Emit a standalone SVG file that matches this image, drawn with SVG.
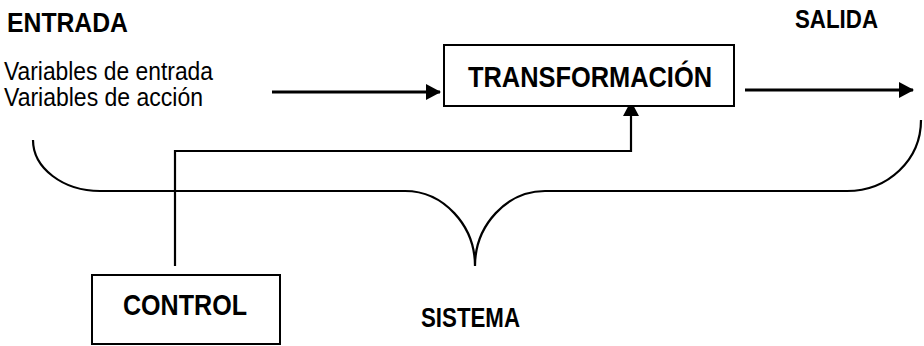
<svg xmlns="http://www.w3.org/2000/svg" width="924" height="346" viewBox="0 0 924 346">
  <style>
    .box { fill: #fff; stroke: #000; stroke-width: 2; }
    .line { fill: none; stroke: #000; stroke-width: 3; }
    .thin { fill: none; stroke: #000; stroke-width: 2.2; }
    .brace { fill: none; stroke: #000; stroke-width: 2.2; }
    .bold { font-family: "Liberation Sans", Arial, sans-serif; font-weight: bold; fill: #000; }
    .reg { font-family: "Liberation Sans", Arial, sans-serif; fill: #000; }
  </style>
  <defs>
    <marker id="arrow" markerUnits="userSpaceOnUse" markerWidth="16" markerHeight="18" refX="14" refY="8" orient="auto">
      <path d="M0,0 L15,8 L0,16 Z" fill="#000"/>
    </marker>
  </defs>

  <!-- labels -->
  <g id="entrada">
    <text class="bold" x="7" y="32" font-size="27" textLength="121" lengthAdjust="spacingAndGlyphs">ENTRADA</text>
    <text class="reg" x="4" y="80" font-size="26" textLength="209" lengthAdjust="spacingAndGlyphs">Variables de entrada</text>
    <text class="reg" x="4" y="106" font-size="26" textLength="199" lengthAdjust="spacingAndGlyphs">Variables de acción</text>
  </g>
  <g id="salida">
    <text class="bold" x="795" y="28" font-size="25" textLength="83" lengthAdjust="spacingAndGlyphs">SALIDA</text>
  </g>
  <g id="sistema">
    <text class="bold" x="421" y="327" font-size="27" textLength="99" lengthAdjust="spacingAndGlyphs">SISTEMA</text>
  </g>

  <!-- connectors -->
  <g id="connectors">
    <line class="line" x1="272" y1="92" x2="440" y2="92" marker-end="url(#arrow)"/>
    <line class="line" x1="745" y1="90" x2="913" y2="90" marker-end="url(#arrow)"/>
    <path class="thin" d="M175,266 L175,151 L631,151 L631,102" marker-end="url(#arrow)"/>
    <!-- system brace -->
    <path class="brace" d="M33,140 C33,168 63,191 100,191 L405,191 C443,191 475,225 475,266 C475,225 507,191 545,191 L847,191 C888,191 921,160 921,120"/>
  </g>

  <g id="transformacion">
    <rect class="box" x="444" y="45" width="290" height="61"/>
    <text class="bold" x="468" y="87" font-size="30" textLength="244" lengthAdjust="spacingAndGlyphs">TRANSFORMACIÓN</text>
  </g>

  <g id="control">
    <rect class="box" x="92" y="275" width="188" height="69"/>
    <text class="bold" x="123" y="315" font-size="30" textLength="124" lengthAdjust="spacingAndGlyphs">CONTROL</text>
  </g>
</svg>
